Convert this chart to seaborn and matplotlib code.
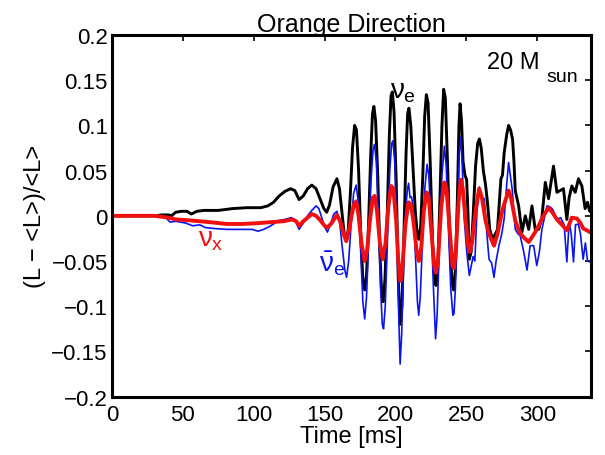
import numpy as np
import pandas as pd
import matplotlib
matplotlib.use('Agg')
import matplotlib.pyplot as plt
import seaborn as sns

# --- data (time in ms, relative luminosity variation) ---
t_nue = [0, 30, 35, 40, 42, 45, 49, 53, 56, 60, 65, 75, 85, 95, 105, 110, 114, 118, 122, 126,
         129, 132, 135, 138, 141, 144, 147, 149.5, 151.5, 153.5, 156, 158.7, 160.5, 162.5, 164,
         165.3, 166.7, 168.2, 169.7, 171.2, 172.5, 174, 175.5, 177, 178.3, 179.6, 181, 182.5,
         183.8, 184.8, 186, 187.5, 189, 190.3, 191.3, 192.6, 194.2, 195.7, 196.9, 197.8, 199,
         200.5, 202, 203.3, 204.6, 206, 207.5, 208.6, 209.5, 210.8, 212.3, 214, 215.5, 216.5,
         217.8, 219.3, 220.6, 221.8, 223, 224.5, 226.2, 227.6, 228.6, 229.8, 231.2, 232.8, 234,
         235.2, 236.7, 238.4, 240, 241, 242.3, 243.7, 244.8, 245.6, 246.6, 247.7, 249, 250.2,
         251, 252.1, 253.4, 254.8, 256.5, 258, 259.2, 260.5, 262, 263.5, 264.9, 266.5, 268.5,
         270.5, 272, 273.5, 274.4, 275.5, 276.7, 278.5, 279.8, 281.2, 282.6, 283.6, 284.5, 286.9,
         289.2, 291.6, 294, 296.3, 298.6, 301, 303.3, 305.7, 308, 311.5, 313.9, 316.2, 318.5,
         320.9, 322.5, 324.4, 326.8, 329.1, 331.5, 333.8, 335.5, 337]
nue = [0, 0, 0.001, 0.001, 0.0, 0.004, 0.005, 0.005, 0.002, 0.005, 0.006, 0.006, 0.008, 0.009,
       0.009, 0.011, 0.015, 0.022, 0.027, 0.030, 0.028, 0.018, 0.022, 0.030, 0.034, 0.030, 0.018,
       0.008, 0.004, 0.012, 0.032, 0.041, 0.030, 0.0, -0.022, -0.028, -0.015, 0.025, 0.075,
       0.100, 0.095, 0.050, -0.020, -0.070, -0.082, -0.065, -0.010, 0.065, 0.113, 0.121, 0.105,
       0.045, -0.040, -0.088, -0.095, -0.070, 0.0, 0.090, 0.133, 0.137, 0.115, 0.040, -0.070,
       -0.120, -0.100, -0.020, 0.070, 0.113, 0.119, 0.100, 0.055, 0.005, -0.022, -0.026, -0.012,
       0.045, 0.110, 0.134, 0.125, 0.060, -0.030, -0.070, -0.077, -0.060, 0.010, 0.100, 0.140,
       0.130, 0.060, -0.030, -0.075, -0.082, -0.060, 0.020, 0.100, 0.124, 0.105, 0.060, 0.045,
       0.040, 0.010, -0.048, -0.040, 0.0, 0.055, 0.080, 0.085, 0.075, 0.050, 0.035, 0.015,
       -0.015, -0.026, -0.020, -0.015, 0.020, 0.041, 0.045, 0.070, 0.090, 0.100, 0.095, 0.085,
       0.060, 0.028, 0.011, -0.018, 0.0, -0.015, 0.011, -0.015, -0.015, -0.002, 0.037, 0.019,
       0.055, 0.026, 0.028, 0.030, -0.004, 0.020, 0.033, 0.026, 0.041, 0.033, 0.008, 0.015,
       0.005]

t_nuebar = [0, 30, 38, 41, 45, 52, 57, 62, 66, 72, 81, 90, 99, 103, 107, 111, 115, 118, 122,
            126.5, 129, 132, 135, 138, 141, 144, 146, 148, 150, 152, 154, 156.5, 158.7, 160.5,
            162.5, 164.3, 165.5, 167, 168.7, 170.5, 172.3, 173.8, 175.5, 177, 178.3, 179.6, 181,
            182.8, 184.2, 185.2, 186.5, 188, 189.5, 190.7, 191.6, 192.8, 194.5, 196, 197.3, 198.2,
            199.5, 201, 202.3, 203.3, 204.4, 205.8, 207.3, 208.5, 209.3, 210.3, 211.3, 212.5, 214,
            215.5, 216.4, 217.5, 219, 220.7, 222.3, 223.5, 225, 226.8, 228.3, 229.4, 231, 232.8,
            234.5, 235.8, 237.3, 239, 240.5, 241.3, 242.3, 243.7, 245, 246, 247, 248.5, 250.3,
            252.1, 253.5, 254.8, 256, 257.5, 259.2, 261, 262.7, 264.5, 266, 267.8, 269.5, 271, 273,
            275, 276.7, 278.5, 279.8, 281, 282.3, 284.5, 286.5, 288, 290.5, 292.8, 295, 297.5,
            299.7, 301.5, 303.3, 306.9, 309, 311, 313.9, 316.5, 319, 320.9, 322.5, 324, 325.6, 327,
            329, 330.5, 332.4, 334, 335.5, 337]
nuebar = [0, 0, -0.002, -0.007, -0.006, -0.008, -0.011, -0.010, -0.013, -0.014, -0.015, -0.015,
          -0.015, -0.017, -0.015, -0.012, -0.008, -0.005, -0.004, -0.002, -0.004, -0.015, -0.008,
          0.0, 0.006, 0.011, 0.008, -0.002, -0.012, -0.018, -0.010, 0.002, 0.005, -0.005, -0.035,
          -0.060, -0.068, -0.050, -0.010, 0.025, 0.034, 0.015, -0.040, -0.095, -0.114, -0.090,
          -0.030, 0.040, 0.073, 0.079, 0.060, 0.0, -0.080, -0.120, -0.125, -0.100, -0.020, 0.050,
          0.080, 0.083, 0.060, -0.020, -0.110, -0.164, -0.130, -0.050, 0.010, 0.030, 0.036, 0.020,
          0.021, 0.010, -0.040, -0.095, -0.110, -0.090, -0.030, 0.030, 0.057, 0.045, 0.0, -0.080,
          -0.136, -0.110, -0.030, 0.045, 0.077, 0.055, -0.010, -0.080, -0.110, -0.108, -0.080,
          -0.010, 0.070, 0.087, 0.060, -0.003, -0.040, -0.066, -0.055, -0.045, -0.050, 0.005,
          0.032, 0.020, 0.019, -0.020, -0.048, -0.052, -0.068, -0.050, -0.033, -0.020, -0.003,
          0.035, 0.059, 0.045, 0.030, -0.015, -0.020, -0.022, -0.040, -0.060, -0.033, -0.033,
          -0.055, -0.040, -0.015, 0.011, 0.010, 0.007, -0.004, -0.002, -0.010, -0.051, -0.007,
          -0.020, -0.051, -0.010, -0.009, -0.020, -0.048, -0.030, -0.050, -0.051]

t_nux = [0, 30, 35, 40, 45, 55, 62, 69, 81, 92, 104, 112, 121, 127, 130, 132, 135, 138, 141, 144,
         147, 150, 152, 155, 158.7, 161, 163, 165.3, 167, 169, 170.8, 172.3, 174, 176, 178.3, 180,
         182, 184, 185.3, 187, 189, 191, 193, 195, 197, 198.5, 200.5, 202, 203.5, 205, 207, 209.2,
         211, 213, 215, 216.5, 218.2, 220, 222, 223.5, 225.5, 227.3, 228.6, 230.2, 232.3, 234.5,
         236, 238, 240.2, 241.3, 242.8, 244.5, 246, 247.5, 249.5, 251.5, 252.5, 254, 256.5, 259,
         261, 263.5, 266, 269.5, 272, 275.5, 279.8, 281.5, 284.5, 287.5, 290.5, 294, 297, 299.7,
         304.4, 308, 311, 313.9, 317.5, 321, 324.4, 328, 330.5, 332.4, 335, 337]
nux = [0, 0, -0.001, -0.002, -0.004, -0.005, -0.006, -0.007, -0.009, -0.009, -0.008, -0.007,
       -0.006, -0.004, -0.006, -0.011, -0.006, -0.002, 0.002, 0.0, -0.005, -0.011, -0.013, -0.008,
       0.001, -0.006, -0.018, -0.028, -0.018, 0.0, 0.013, 0.016, 0.0, -0.030, -0.050, -0.038,
       -0.005, 0.020, 0.022, 0.005, -0.030, -0.048, -0.030, 0.010, 0.033, 0.030, -0.005, -0.050,
       -0.072, -0.055, -0.010, 0.015, 0.012, -0.010, -0.040, -0.050, -0.035, 0.005, 0.026, 0.020,
       -0.020, -0.055, -0.063, -0.045, 0.010, 0.037, 0.030, -0.010, -0.055, -0.058, -0.035, 0.015,
       0.040, 0.030, -0.005, -0.035, -0.040, -0.030, 0.005, 0.030, 0.020, -0.005, -0.020, -0.033,
       -0.020, 0.007, 0.028, 0.020, -0.005, -0.018, -0.024, -0.029, -0.022, -0.015, 0.0, 0.009,
       0.003, -0.004, -0.010, -0.016, -0.002, -0.003, -0.008, -0.014, -0.016, -0.018]

x_ticks = [0, 50, 100, 150, 200, 250, 300]
y_ticks = [-0.2, -0.15, -0.1, -0.05, 0, 0.05, 0.1, 0.15, 0.2]
y_tick_labels = ['\u22120.2', '\u22120.15', '\u22120.1', '\u22120.05', '0',
                 '0.05', '0.1', '0.15', '0.2']

# --- style ---
sns.set_style('white')
plt.rcParams['font.family'] = ['Liberation Sans', 'DejaVu Sans']
plt.rcParams['mathtext.fontset'] = 'custom'
plt.rcParams['mathtext.rm'] = 'Liberation Sans'
plt.rcParams['mathtext.it'] = 'Liberation Sans'
plt.rcParams['mathtext.bf'] = 'Liberation Sans:bold'
for key in ['text.color', 'axes.labelcolor', 'xtick.color', 'ytick.color']:
    plt.rcParams[key] = 'black'

fig = plt.figure(figsize=(6.05, 4.56), dpi=100)
ax = fig.add_axes([0.185, 0.128, 0.792, 0.793])

sns.lineplot(x=t_nue, y=nue, ax=ax, color='black', linewidth=2.1, estimator=None, sort=False)
sns.lineplot(x=t_nuebar, y=nuebar, ax=ax, color='#0a14f0', linewidth=1.2, estimator=None, sort=False)
sns.lineplot(x=t_nux, y=nux, ax=ax, color='#f01010', linewidth=2.8, estimator=None, sort=False)

ax.set_xlim(0, 338)
ax.set_ylim(-0.2, 0.2)
ax.set_xticks(x_ticks)
ax.set_yticks(y_ticks)
ax.set_yticklabels(y_tick_labels)
ax.tick_params(direction='in', length=4, width=1.2, labelsize=16, top=True, right=True)
ax.tick_params(axis='x', pad=5)
ax.tick_params(axis='y', pad=3)
for s in ax.spines.values():
    s.set_linewidth(2.2)
    s.set_color('black')

ax.set_title('Orange Direction', fontsize=18, pad=3, color='black')
ax.set_xlabel('Time [ms]', fontsize=17, labelpad=0)
ax.set_ylabel('(L \u2212 <L>)/<L>', fontsize=17, labelpad=4)

ax.text(205, 0.138, r'$\nu_e$', color='black', fontsize=20, ha='center', va='center')
ax.text(155.5, -0.052, r'$\bar{\nu}_e$', color='#0a14f0', fontsize=20, ha='center', va='center')
ax.text(70, -0.026, r'$\nu_x$', color='#f01010', fontsize=20, ha='center', va='center')
ax.text(301.4, 0.163, '20 M', color='black', fontsize=17, ha='right', va='baseline')
ax.text(306.5, 0.149, 'sun', color='black', fontsize=14, ha='left', va='baseline')

fig.savefig('out.png', dpi=100)
